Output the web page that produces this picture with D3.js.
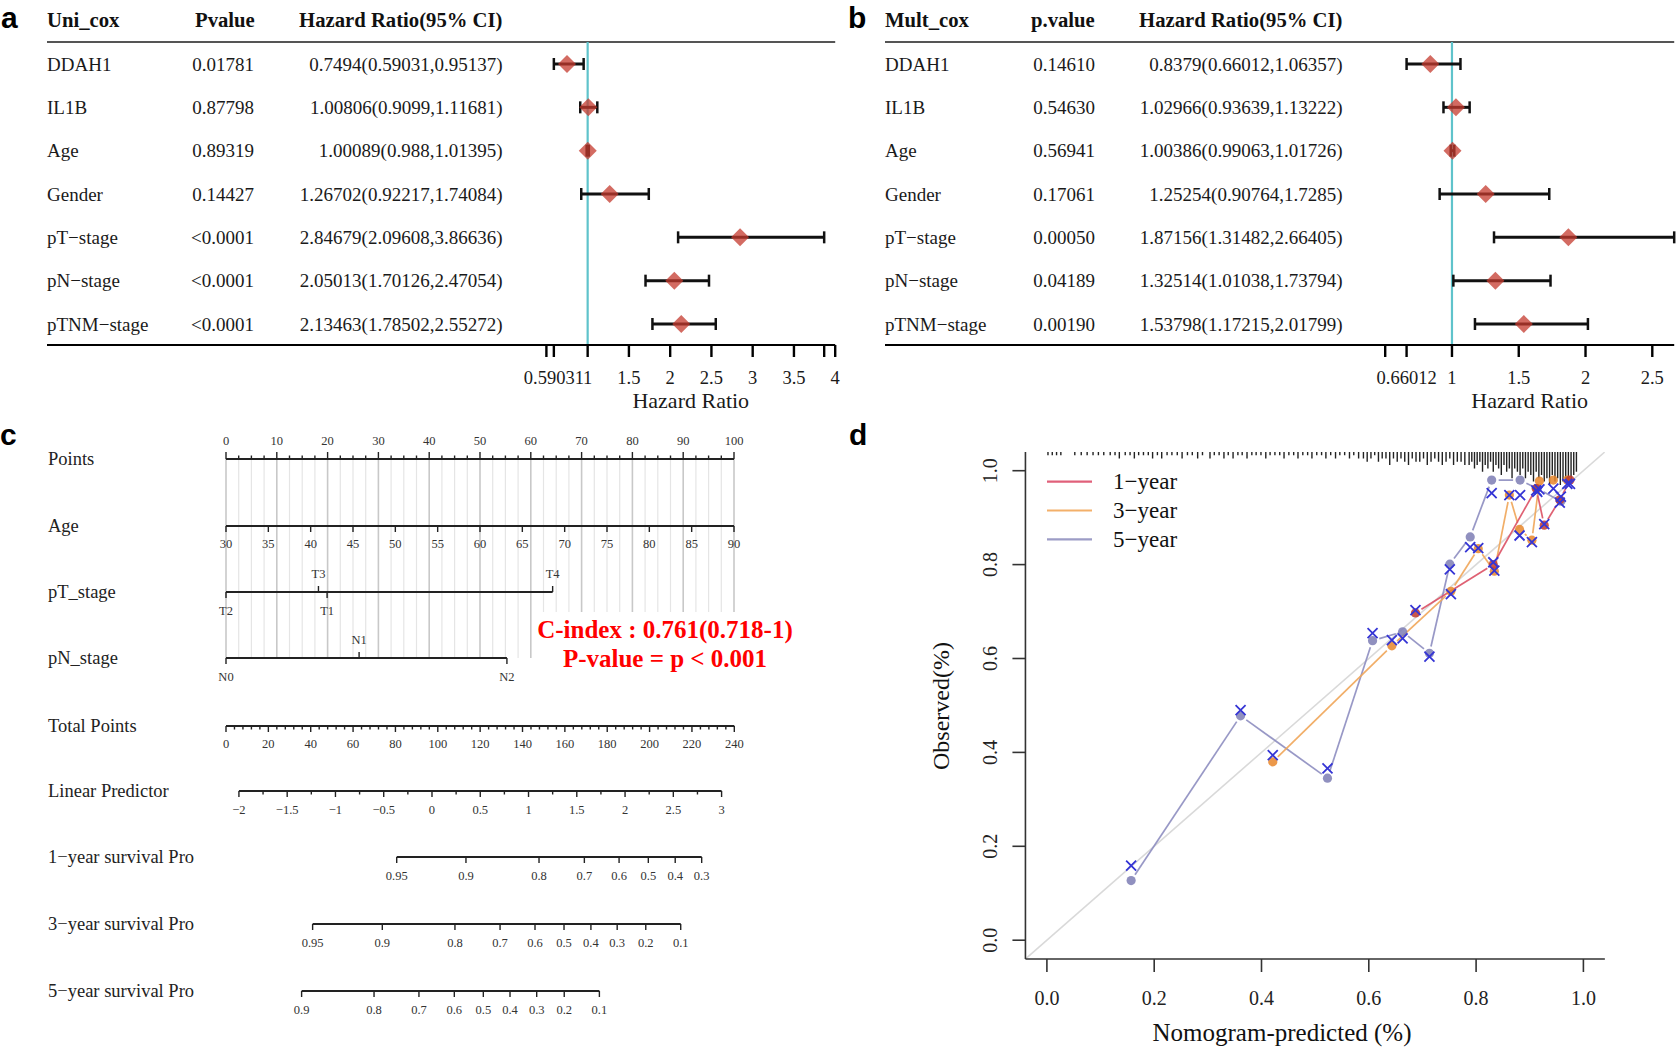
<!DOCTYPE html>
<html>
<head>
<meta charset="utf-8">
<script src="https://cdn.jsdelivr.net/npm/d3@7/dist/d3.min.js"></script>
<style>
html,body{margin:0;padding:0;background:#fff;}
svg{display:block;}
</style>
</head>
<body>
<svg id="chart" width="1680" height="1051"></svg>
<script>
// ================= DATA =================
// ---- Panels a & b : Cox regression forest plots ----
const coxVars = ["DDAH1","IL1B","Age","Gender","pT\u2212stage","pN\u2212stage","pTNM\u2212stage"];

const uniP  = ["0.01781","0.87798","0.89319","0.14427","<0.0001","<0.0001","<0.0001"];
const uniHR = [0.7494, 1.00806, 1.00089, 1.26702, 2.84679, 2.05013, 2.13463];
const uniLo = [0.59031, 0.9099, 0.988, 0.92217, 2.09608, 1.70126, 1.78502];
const uniHi = [0.95137, 1.11681, 1.01395, 1.74084, 3.86636, 2.47054, 2.55272];
const uniTicks = [0.5, 0.59031, 1, 1.5, 2, 2.5, 3, 3.5, 3.86636, 4];
const uniTickLabels = ["", "0.59031", "1", "1.5", "2", "2.5", "3", "3.5", "", "4"];

const multP  = ["0.14610","0.54630","0.56941","0.17061","0.00050","0.04189","0.00190"];
const multHR = [0.8379, 1.02966, 1.00386, 1.25254, 1.87156, 1.32514, 1.53798];
const multLo = [0.66012, 0.93639, 0.99063, 0.90764, 1.31482, 1.01038, 1.17215];
const multHi = [1.06357, 1.13222, 1.01726, 1.7285, 2.66405, 1.73794, 2.01799];
const multTicks = [0.5, 0.66012, 1, 1.5, 2, 2.5];
const multTickLabels = ["", "0.66012", "1", "1.5", "2", "2.5"];

// ---- Panel c : nomogram ----
const pointsLabels = [0,10,20,30,40,50,60,70,80,90,100];
const ageLabels = [30,35,40,45,50,55,60,65,70,75,80,85,90];
const ageRange = [30, 90];            // age mapped to 0..100 points
const ptLevels = ["T2","T3","T1","T4"];
const ptPoints = [0, 18.2, 19.9, 64.3];
const pnLevels = ["N0","N1","N2"];
const pnPoints = [0, 26.2, 55.3];
const totalLabels = [0,20,40,60,80,100,120,140,160,180,200,220,240];
const lpLabels = [-2,-1.5,-1,-0.5,0,0.5,1,1.5,2,2.5,3];
const lpTotalPoints = [6.1, 234.0];   // total points at LP = -2 and LP = 3
const sur1Prob  = ["0.95","0.9","0.8","0.7","0.6","0.5","0.4","0.3"];
const sur1Total = [80.6, 113.3, 147.8, 169.2, 185.6, 199.4, 212.1, 224.6];
const sur3Prob  = ["0.95","0.9","0.8","0.7","0.6","0.5","0.4","0.3","0.2","0.1"];
const sur3Total = [40.9, 73.8, 108.1, 129.4, 145.9, 159.6, 172.3, 184.7, 198.2, 214.7];
const sur5Prob  = ["0.9","0.8","0.7","0.6","0.5","0.4","0.3","0.2","0.1"];
const sur5Total = [35.7, 69.9, 91.1, 107.8, 121.5, 134.1, 146.7, 159.7, 176.3];
const cIndexText = "C-index : 0.761(0.718-1)";
const pValueText = "P-value = p < 0.001";

// ---- Panel d : calibration curves ----
const pred1 = [0.687, 0.832, 0.912, 0.927, 0.956, 0.975];
const obs1  = [0.697, 0.800, 0.962, 0.884, 0.938, 0.980];
const corr1 = [0.703, 0.805, 0.958, 0.886, 0.932, 0.972];

const pred3 = [0.421, 0.643, 0.753, 0.804, 0.834, 0.862, 0.881, 0.904, 0.918, 0.944, 0.970];
const obs3  = [0.380, 0.627, 0.743, 0.834, 0.786, 0.948, 0.875, 0.852, 0.978, 0.980, 0.980];
const corr3 = [0.394, 0.639, 0.737, 0.835, 0.787, 0.948, 0.862, 0.848, 0.960, 0.962, 0.972];

const pred5 = [0.157, 0.361, 0.523, 0.607, 0.663, 0.713, 0.751, 0.789, 0.829, 0.882, 0.914, 0.958];
const obs5  = [0.127, 0.478, 0.345, 0.638, 0.657, 0.611, 0.801, 0.859, 0.980, 0.980, 0.962, 0.935];
const corr5 = [0.159, 0.490, 0.366, 0.654, 0.643, 0.604, 0.790, 0.837, 0.952, 0.948, 0.955, 0.945];

const calTicks = [0, 0.2, 0.4, 0.6, 0.8, 1.0];
const calTickLabels = ["0.0","0.2","0.4","0.6","0.8","1.0"];
const legendNames = ["1\u2212year","3\u2212year","5\u2212year"];

// spike histogram of predicted values (top of panel d)
const rugX = [
0.002,0.010,0.018,0.026,
0.052,0.064,0.075,0.086,0.096,0.106,
0.118,0.127,0.135,0.146,0.155,0.163,0.171,0.180,0.189,0.197,0.206,0.214,0.224,0.233,0.243,0.252,0.262,0.271,0.281,0.290,
0.304,0.312,0.321,0.330,0.338,0.347,0.356,0.364,0.373,0.382,0.390,0.399,0.408,0.416,0.425,0.434,0.442,0.451,0.460,0.468,0.477,0.486,0.494,0.503,0.512,0.520,0.529,0.538,0.546,0.555,0.564,0.572,0.581,
0.590,0.597,0.604,0.611,0.618,0.625,0.632,0.639,0.646,0.653,0.660,0.667,0.674,0.681,0.688,0.695,0.702,0.709,0.716,0.723,0.730,0.737,0.744,0.751,0.758,0.765,0.772,0.779,
0.787,0.792,0.797,0.802,0.807,0.812,0.817,0.822,0.827,0.832,0.837,0.842,0.847,0.852,0.857,0.862,0.867,0.872,0.877,0.882,0.887,0.892,0.897,0.902,0.907,0.912,0.917,0.922,0.927,0.932,0.937,0.942,0.947,0.952,0.957,0.962,0.967,0.972,0.977,0.982,0.987];
const rugN = [
1,1,1,1,
1,1,1,1,1,1,
1,1,2,1,1,2,1,1,1,2,1,2,1,1,1,2,1,1,2,1,
2,1,1,2,1,2,1,1,2,1,1,1,2,1,1,1,2,1,1,2,1,1,2,1,1,2,1,2,1,1,2,1,2,
2,3,2,1,3,2,2,4,2,3,2,3,4,2,3,3,2,4,3,2,3,4,3,2,4,3,3,4,
4,3,5,4,3,6,4,5,3,6,4,5,7,4,6,5,8,5,6,7,5,8,6,7,9,6,8,7,9,8,10,7,9,8,10,9,8,10,9,7,6];

// ================= DRAWING =================
const svg = d3.select("#chart");
const SERIF = "'Liberation Serif','Times New Roman',Times,serif";
const SANS = "'Liberation Sans',Arial,Helvetica,sans-serif";

// panel letters
[["a",1,28],["b",848,28],["c",0,445],["d",849,445]].forEach(([t,x,y]) => {
  svg.append("text").attr("x", x).attr("y", y).text(t)
    .attr("font-family", SANS).attr("font-weight", "bold").attr("font-size", 30).attr("fill", "#000");
});

// ---------- forest plots ----------
function forest(o) {
  const g = svg.append("g");
  const y = d3.scalePoint().domain(coxVars).range([64, 324]);
  const x = d3.scaleLinear().domain(o.domain).range(o.range);
  const tableRight = o.range[1];
  const hdr = (tx, xx, anchor) => g.append("text").attr("x", xx).attr("y", 27).text(tx)
      .attr("text-anchor", anchor).attr("font-family", SERIF).attr("font-weight", "bold")
      .attr("font-size", 20.7).attr("fill", "#111");
  hdr(o.title, o.nameX, "start");
  hdr(o.pTitle, o.pHeadX, "start");
  hdr("Hazard Ratio(95% CI)", o.hrX, "end");
  g.append("line").attr("x1", o.nameX).attr("x2", tableRight).attr("y1", 42).attr("y2", 42)
    .attr("stroke", "#555").attr("stroke-width", 2.2);

  const txt = (tx, xx, yy, anchor) => g.append("text").attr("x", xx).attr("y", yy).attr("dy", "0.35em")
      .text(tx).attr("text-anchor", anchor).attr("font-family", SERIF).attr("font-size", 19).attr("fill", "#1a1a1a");
  coxVars.forEach((v, i) => {
    const yy = y(v);
    txt(v, o.nameX, yy, "start");
    txt(o.p[i], o.pX, yy, "end");
    txt(String(o.hr[i]) + "(" + String(o.lo[i]) + "," + String(o.hi[i]) + ")", o.hrX, yy, "end");
  });

  // reference line at HR = 1
  g.append("line").attr("x1", x(1)).attr("x2", x(1)).attr("y1", 42).attr("y2", 345)
    .attr("stroke", "#5fc3cb").attr("stroke-width", 2.2);

  // CIs
  coxVars.forEach((v, i) => {
    const yy = y(v);
    g.append("line").attr("x1", x(o.lo[i])).attr("x2", x(o.hi[i])).attr("y1", yy).attr("y2", yy)
      .attr("stroke", "#111").attr("stroke-width", 3);
    [o.lo[i], o.hi[i]].forEach(e => g.append("line").attr("x1", x(e)).attr("x2", x(e))
      .attr("y1", yy - 6).attr("y2", yy + 6).attr("stroke", "#111").attr("stroke-width", 2.5));
  });
  coxVars.forEach((v, i) => {
    const cx = x(o.hr[i]), cy = y(v);
    g.append("path").attr("d", `M${cx-9},${cy} L${cx},${cy-9} L${cx+9},${cy} L${cx},${cy+9} Z`)
      .attr("fill", "#c43a2e").attr("fill-opacity", 0.75);
  });

  // bottom line and axis
  g.append("line").attr("x1", o.nameX).attr("x2", tableRight).attr("y1", 345).attr("y2", 345)
    .attr("stroke", "#000").attr("stroke-width", 2);
  o.ticks.forEach((t, i) => {
    g.append("line").attr("x1", x(t)).attr("x2", x(t)).attr("y1", 345).attr("y2", 357)
      .attr("stroke", "#000").attr("stroke-width", 2.4);
    if (o.tickLabels[i]) g.append("text").attr("x", x(t)).attr("y", 378).attr("dy", "0.35em")
      .attr("text-anchor", "middle").text(o.tickLabels[i]).attr("font-family", SERIF)
      .attr("font-size", 18.5).attr("fill", "#1a1a1a");
  });
  g.append("text").attr("x", (o.range[0] + o.range[1]) / 2).attr("y", 400).attr("dy", "0.35em")
    .attr("text-anchor", "middle").text("Hazard Ratio").attr("font-family", SERIF)
    .attr("font-size", 22).attr("fill", "#1a1a1a");
}

forest({title: "Uni_cox", pTitle: "Pvalue", p: uniP, hr: uniHR, lo: uniLo, hi: uniHi,
  nameX: 47, pHeadX: 195, pX: 254, hrX: 502.5,
  domain: [0.5, 4], range: [546.4, 835.2], ticks: uniTicks, tickLabels: uniTickLabels});
forest({title: "Mult_cox", pTitle: "p.value", p: multP, hr: multHR, lo: multLo, hi: multHi,
  nameX: 885, pHeadX: 1031, pX: 1095, hrX: 1342.5,
  domain: [0.5, 2.66405], range: [1385.2, 1674.2], ticks: multTicks, tickLabels: multTickLabels});

// ---------- nomogram ----------
(function () {
  const g = svg.append("g");
  const pts = d3.scaleLinear().domain([0, 100]).range([226, 734]);
  const tot = d3.scaleLinear().domain([0, 240]).range([226, 734.3]);
  const age = d3.scaleLinear().domain(ageRange).range([0, 100]);
  const lp = d3.scaleLinear().domain([lpLabels[0], lpLabels[lpLabels.length - 1]]).range(lpTotalPoints);
  const rowY = {points: 459, age: 526, pt: 592, pn: 658, total: 726, lp: 791, s1: 857, s3: 924, s5: 991};
  const INK = "#222", LAB = "#333";

  // grid lines
  d3.range(0, 100.01, 2.5).forEach(p => {
    const major = Math.abs(p % 10) < 1e-9;
    g.append("line").attr("x1", pts(p)).attr("x2", pts(p)).attr("y1", rowY.points).attr("y2", rowY.pn)
      .attr("stroke", major ? "#c8c8c8" : "#e5e5e5").attr("stroke-width", major ? 1.6 : 1.2);
  });

  const rowLabel = (t, y) => g.append("text").attr("x", 48).attr("y", y).attr("dy", "0.32em").text(t)
    .attr("font-family", SERIF).attr("font-size", 18.5).attr("fill", INK);
  const hline = (x1, x2, y) => g.append("line").attr("x1", x1).attr("x2", x2).attr("y1", y).attr("y2", y)
    .attr("stroke", INK).attr("stroke-width", 1.8);
  const tick = (x, y, len) => g.append("line").attr("x1", x).attr("x2", x).attr("y1", y).attr("y2", y + len)
    .attr("stroke", INK).attr("stroke-width", 1.4);
  const tlab = (t, x, y) => g.append("text").attr("x", x).attr("y", y).attr("dy", "0.35em")
    .attr("text-anchor", "middle").text(t).attr("font-family", SERIF).attr("font-size", 12.5).attr("fill", LAB);

  // Points
  rowLabel("Points", rowY.points);
  hline(pts(0), pts(100), rowY.points);
  d3.range(0, 100.01, 2.5).forEach(p => tick(pts(p), rowY.points, (p % 10 === 0) ? -7 : -3.5));
  pointsLabels.forEach(p => tlab(String(p), pts(p), rowY.points - 18));

  // Age
  rowLabel("Age", rowY.age);
  hline(pts(age(ageRange[0])), pts(age(ageRange[1])), rowY.age);
  ageLabels.forEach(a => { tick(pts(age(a)), rowY.age, 6); tlab(String(a), pts(age(a)), rowY.age + 18); });

  // categorical axes
  function catAxis(name, levels, points, y) {
    rowLabel(name, y);
    hline(pts(d3.min(points)), pts(d3.max(points)), y);
    levels.forEach((l, i) => {
      const above = i % 2 === 1;
      tick(pts(points[i]), y, above ? -6 : 6);
      tlab(l, pts(points[i]), above ? y - 18 : y + 19);
    });
  }
  catAxis("pT_stage", ptLevels, ptPoints, rowY.pt);
  catAxis("pN_stage", pnLevels, pnPoints, rowY.pn);

  // Total points
  rowLabel("Total Points", rowY.total);
  hline(tot(0), tot(240), rowY.total);
  d3.range(0, 240.01, 4).forEach(p => tick(tot(p), rowY.total, (p % 20 === 0) ? 6 : 3.5));
  totalLabels.forEach(p => tlab(String(p), tot(p), rowY.total + 18));

  // Linear predictor
  rowLabel("Linear Predictor", rowY.lp);
  hline(tot(lp(lpLabels[0])), tot(lp(lpLabels[lpLabels.length - 1])), rowY.lp);
  d3.range(lpLabels[0], lpLabels[lpLabels.length - 1] + 0.01, 0.25).forEach(v =>
    tick(tot(lp(v)), rowY.lp, (Math.abs(v * 2 - Math.round(v * 2)) < 1e-9) ? 6 : 3.5));
  lpLabels.forEach(v => tlab(String(v).replace("-", "\u2212"), tot(lp(v)), rowY.lp + 19));

  // survival axes
  function survAxis(name, probs, totals, y) {
    rowLabel(name, y);
    hline(tot(totals[0]), tot(totals[totals.length - 1]), y);
    probs.forEach((p, i) => { tick(tot(totals[i]), y, 6); tlab(p, tot(totals[i]), y + 19); });
  }
  survAxis("1\u2212year survival Pro", sur1Prob, sur1Total, rowY.s1);
  survAxis("3\u2212year survival Pro", sur3Prob, sur3Total, rowY.s3);
  survAxis("5\u2212year survival Pro", sur5Prob, sur5Total, rowY.s5);

  // C-index annotation
  g.append("rect").attr("x", 533).attr("y", 612).attr("width", 264).attr("height", 60).attr("fill", "#fff");
  [[cIndexText, 629], [pValueText, 658]].forEach(([t, y]) =>
    g.append("text").attr("x", 665).attr("y", y).attr("dy", "0.35em").attr("text-anchor", "middle").text(t)
      .attr("font-family", SERIF).attr("font-weight", "bold").attr("font-size", 25).attr("fill", "#ff0000"));
})();

// ---------- calibration ----------
(function () {
  const g = svg.append("g");
  const x = d3.scaleLinear().domain([0, 1]).range([1046.9, 1583.4]);
  const y = d3.scaleLinear().domain([0, 1]).range([940.2, 470.7]);
  const xl = x(-0.04), xr = x(1.04), yb = y(-0.04), yt = y(1.04);
  const INK = "#333";

  g.append("defs").append("clipPath").attr("id", "calclip").append("rect")
    .attr("x", xl).attr("y", yt).attr("width", xr - xl).attr("height", yb - yt);
  const plot = g.append("g").attr("clip-path", "url(#calclip)");

  // ideal line
  plot.append("line").attr("x1", x(-0.04)).attr("y1", y(-0.04)).attr("x2", x(1.04)).attr("y2", y(1.04))
    .attr("stroke", "#d9d9d9").attr("stroke-width", 1.6);

  // spike histogram
  rugX.forEach((v, i) => plot.append("line").attr("x1", x(v)).attr("x2", x(v)).attr("y1", yt)
    .attr("y2", yt + rugN[i] * 3.3).attr("stroke", "#222").attr("stroke-width", 1.4));

  const series = [
    {pred: pred5, obs: obs5, corr: corr5, line: "#8d8dc0", pt: "#7c7cb4"},
    {pred: pred3, obs: obs3, corr: corr3, line: "#f0a558", pt: "#e7862a"},
    {pred: pred1, obs: obs1, corr: corr1, line: "#dc5064", pt: "#c0392b"}
  ];
  // lines with gaps around points (type = "b")
  series.forEach(s => {
    for (let i = 0; i < s.pred.length - 1; i++) {
      const x1 = x(s.pred[i]), y1 = y(s.obs[i]), x2 = x(s.pred[i + 1]), y2 = y(s.obs[i + 1]);
      const L = Math.hypot(x2 - x1, y2 - y1), gap = 7;
      if (L <= 2 * gap) continue;
      const ux = (x2 - x1) / L, uy = (y2 - y1) / L;
      plot.append("line").attr("x1", x1 + ux * gap).attr("y1", y1 + uy * gap)
        .attr("x2", x2 - ux * gap).attr("y2", y2 - uy * gap)
        .attr("stroke", s.line).attr("stroke-width", 1.7).attr("stroke-opacity", 0.9);
    }
  });
  series.forEach(s => s.pred.forEach((p, i) =>
    plot.append("circle").attr("cx", x(p)).attr("cy", y(s.obs[i])).attr("r", 4.6)
      .attr("fill", s.pt).attr("fill-opacity", 0.85)));
  series.forEach(s => s.pred.forEach((p, i) => {
    const cx = x(p), cy = y(s.corr[i]), h = 5;
    plot.append("path").attr("d", `M${cx-h},${cy-h}L${cx+h},${cy+h}M${cx-h},${cy+h}L${cx+h},${cy-h}`)
      .attr("stroke", "#3535d5").attr("stroke-width", 1.8).attr("fill", "none");
  }));

  // axes (bty = "l")
  g.append("line").attr("x1", xl).attr("x2", xl).attr("y1", yt).attr("y2", yb).attr("stroke", INK).attr("stroke-width", 1.6);
  g.append("line").attr("x1", xl).attr("x2", xr).attr("y1", yb).attr("y2", yb).attr("stroke", INK).attr("stroke-width", 1.6);
  calTicks.forEach((t, i) => {
    g.append("line").attr("x1", x(t)).attr("x2", x(t)).attr("y1", yb).attr("y2", yb + 13).attr("stroke", INK).attr("stroke-width", 1.6);
    g.append("text").attr("x", x(t)).attr("y", 998).attr("dy", "0.35em").attr("text-anchor", "middle")
      .text(calTickLabels[i]).attr("font-family", SERIF).attr("font-size", 20).attr("fill", "#222");
    g.append("line").attr("x1", xl - 13).attr("x2", xl).attr("y1", y(t)).attr("y2", y(t)).attr("stroke", INK).attr("stroke-width", 1.6);
    g.append("text").attr("transform", `translate(990,${y(t)}) rotate(-90)`).attr("dy", "0.35em")
      .attr("text-anchor", "middle").text(calTickLabels[i]).attr("font-family", SERIF)
      .attr("font-size", 20).attr("fill", "#222");
  });
  g.append("text").attr("x", 1282).attr("y", 1032).attr("dy", "0.35em").attr("text-anchor", "middle")
    .text("Nomogram-predicted (%)").attr("font-family", SERIF).attr("font-size", 25).attr("fill", "#111");
  g.append("text").attr("transform", `translate(941,706) rotate(-90)`).attr("dy", "0.35em")
    .attr("text-anchor", "middle").text("Observed(%)").attr("font-family", SERIF)
    .attr("font-size", 24).attr("fill", "#111");

  // legend
  const legCols = ["#e0607a", "#f3b06a", "#9c9cc6"];
  legendNames.forEach((n, i) => {
    const ly = 481.7 + i * 28.8;
    g.append("line").attr("x1", 1047).attr("x2", 1092).attr("y1", ly).attr("y2", ly)
      .attr("stroke", legCols[i]).attr("stroke-width", 2.2);
    g.append("text").attr("x", 1113).attr("y", ly).attr("dy", "0.33em").text(n)
      .attr("font-family", SERIF).attr("font-size", 23).attr("fill", "#111");
  });
})();
</script>
</body>
</html>
